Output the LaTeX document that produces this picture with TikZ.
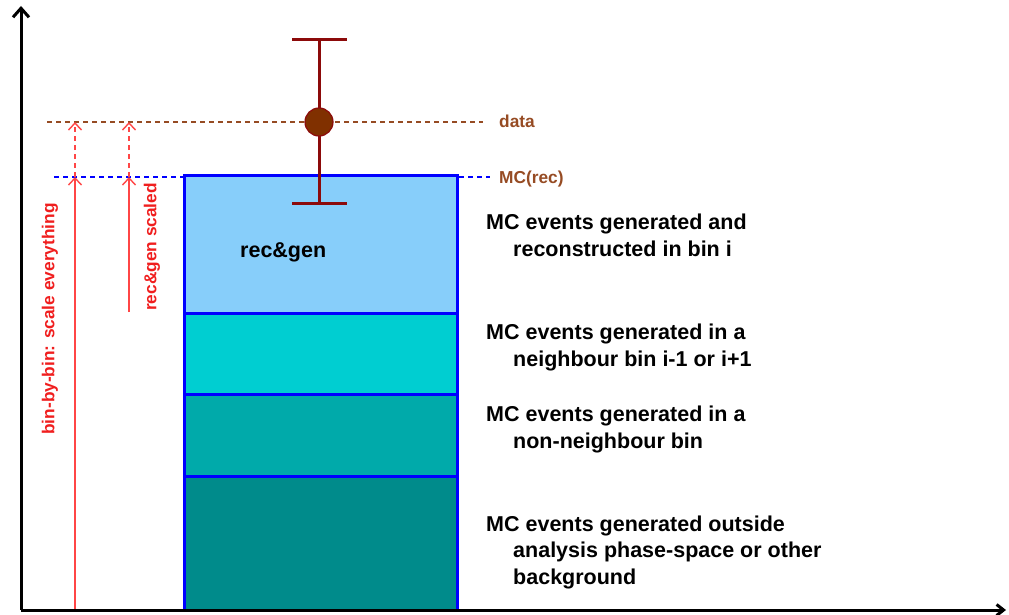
\documentclass[tikz,border=0pt]{standalone}
\usepackage{fontspec}
\setmainfont{Liberation Sans}
\usetikzlibrary{arrows.meta}

\definecolor{brun}{RGB}{150,75,35}
\definecolor{barre}{RGB}{140,10,10}
\definecolor{point}{RGB}{128,48,0}
\definecolor{rouge}{RGB}{255,70,70}
\definecolor{rougetexte}{RGB}{240,30,30}
\definecolor{recgen}{RGB}{135,206,250}
\definecolor{voisin}{RGB}{0,206,209}
\definecolor{nonvoisin}{RGB}{0,170,170}
\definecolor{dehors}{RGB}{0,139,139}

\begin{document}
\begin{tikzpicture}[x=1pt, y=-1pt,
    grand/.style={font=\fontsize{21.5}{26.5}\selectfont\bfseries, inner sep=0pt, anchor=base west, align=left},
    petit/.style={font=\fontsize{17.3}{20}\selectfont\bfseries, inner sep=0pt},
    fleche/.style={rouge, line width=1.4pt, -{Straight Barb[length=7pt, width=13pt]}}]
    \useasboundingbox (0,0) rectangle (1009,615);

    % Lignes de niveau : data et MC(rec)
    \draw[brun, line width=1.3pt, dash pattern=on 5pt off 4pt] (47,122) -- (483,122);
    \node[petit, brun, anchor=base west] (data) at (499,128) {data};
    \draw[blue, line width=1.3pt, dash pattern=on 5pt off 4pt] (54,177) -- (490,177);
    \node[petit, brun, anchor=base west] (mcrec) at (499,183) {MC(rec)};

    % Histogramme empile
    \filldraw[fill=dehors, draw=blue, line width=3pt] (184,476) rectangle (457,610);
    \filldraw[fill=nonvoisin, draw=blue, line width=3pt] (184,394) rectangle (457,476);
    \filldraw[fill=voisin, draw=blue, line width=3pt] (184,313) rectangle (457,394);
    \filldraw[fill=recgen, draw=blue, line width=3pt] (184,175) rectangle (457,313);
    \node[grand] (rg) at (240,257) {rec\&gen};

    % Point de donnees avec barre d'erreur
    \draw[barre, line width=3pt] (292,40) -- (347,40);
    \draw[barre, line width=3pt] (292,203) -- (347,203);
    \draw[barre, line width=3pt] (319,40) -- (319,203);
    \filldraw[fill=point, draw=barre, line width=1.2pt] (319,122) circle (14);

    % Fleches de mise a l'echelle
    \coordinate (A0) at (75,610);
    \coordinate (A1) at (75,177);
    \coordinate (A2) at (75,122);
    \coordinate (B0) at (129,312);
    \coordinate (B1) at (129,177);
    \coordinate (B2) at (129,122);
    \draw[fleche] (A0) -- (A1);
    \draw[fleche, dash pattern=on 5pt off 4pt] (A1) -- (A2);
    \draw[fleche] (B0) -- (B1);
    \draw[fleche, dash pattern=on 5pt off 4pt] (B1) -- (B2);
    \node[petit, rougetexte, rotate=90] (bbb) at (50,319) {bin-by-bin: scale everything};
    \node[petit, rougetexte, rotate=90] (rgs) at (152,247) {rec\&gen scaled};

    % Descriptions (ancre sur la derniere ligne)
    \node[grand] (d1) at (486,256) {MC events generated and\\\hspace*{27pt}reconstructed in bin i};
    \node[grand] (d2) at (486,366) {MC events generated in a\\\hspace*{27pt}neighbour bin i-1 or i+1};
    \node[grand] (d3) at (486,448) {MC events generated in a\\\hspace*{27pt}non-neighbour bin};
    \node[grand] (d4) at (486,584) {MC events generated outside\\\hspace*{27pt}analysis phase-space or other\\\hspace*{27pt}background};

    % Axes
    \draw[line width=3pt, -{Straight Barb[length=9pt, width=16pt]}] (21,610) -- (21,6);
    \draw[line width=3pt, -{Straight Barb[length=7pt, width=11pt]}] (21,610) -- (1006,610);
\end{tikzpicture}
\end{document}
